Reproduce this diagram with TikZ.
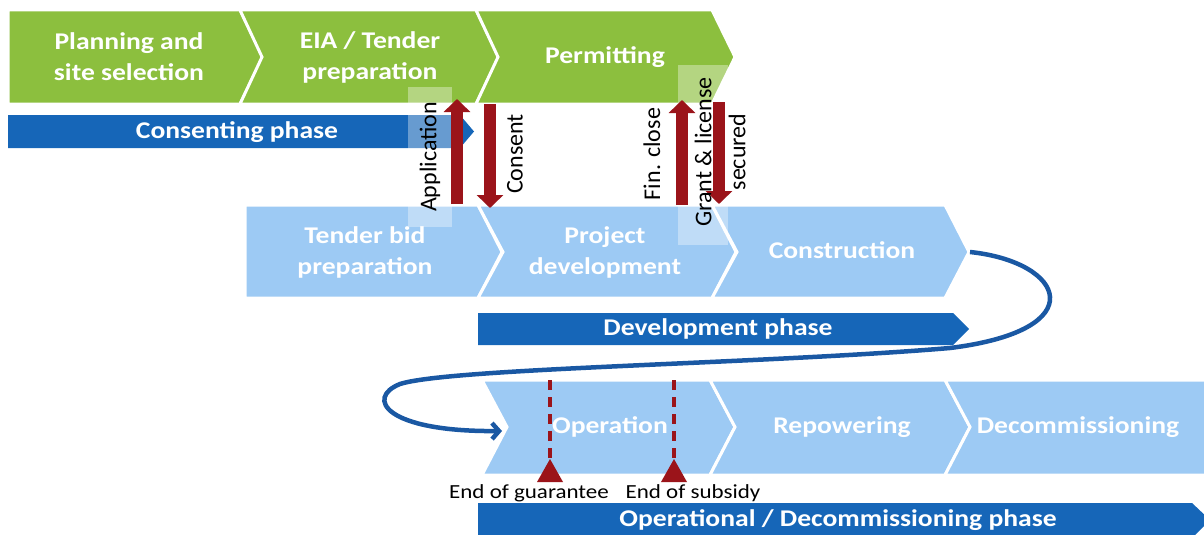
\documentclass[tikz,border=0pt]{standalone}
\usepackage{fontspec}
\setmainfont{Carlito}
\newfontfamily\chevfont{Carlito}[FakeStretch=1.15]
\usetikzlibrary{arrows.meta}
\definecolor{leafgreen}{RGB}{140,191,62}
\definecolor{skyblue}{RGB}{157,202,244}
\definecolor{phaseblue}{RGB}{22,102,184}
\definecolor{loopblue}{RGB}{26,88,163}
\definecolor{signred}{RGB}{155,20,26}
\tikzset{
  stage/.style={text=white, font=\chevfont\bfseries\fontsize{24}{31}\selectfont, align=center},
  sidetext/.style={rotate=90, font=\fontsize{24}{30}\selectfont, align=center},
  endtext/.style={font=\chevfont\fontsize{20}{24}\selectfont},
  redarrow/.style={signred, line width=12pt, -{Triangle[length=13pt,width=26pt]}},
}
\begin{document}
\begin{tikzpicture}[x=1pt, y=-1pt]
\useasboundingbox (0,0) rectangle (1204,535);
\foreach \l/\r/\n in {8/240/0, 240/476/22, 476/712/22}
{
    \fill[leafgreen, draw=white, line width=3pt](\l,10)--(\r,10)--(\r+23,57)--(\r,104)--(\l,104)--(\l+\n,57)--cycle;
}
\fill[phaseblue](8,115)--(460,115)--(474,131.5)--(460,148)--(8,148)--cycle;
\foreach \l/\r/\n in {245/478/0, 478/712/25, 712/945/25}
{
    \fill[skyblue, draw=white, line width=3pt](\l,205)--(\r,205)--(\r+24,252)--(\r,298)--(\l,298)--(\l+\n,252)--cycle;
}
\fill[phaseblue](478,313)--(953,313)--(969,329)--(953,345)--(478,345)--cycle;
\foreach \l/\r/\n in {482/710/25, 710/945/25, 945/1205/25}
{
    \fill[skyblue, draw=white, line width=3pt](\l,380)--(\r,380)--(\r+25,427)--(\r,475)--(\l,475)--(\l+\n,427)--cycle;
}
\fill[phaseblue](478,503)--(1192,503)--(1210,520)--(1192,538)--(478,538)--cycle;
\fill[white, opacity=.35](408,87)rectangle(452,227);
\fill[white, opacity=.35](678,65)rectangle(728,245);
\node[stage](plan) at (129,57){Planning and\\site selection};
\node[stage](eia) at (370,57){EIA / Tender\\preparation};
\node[stage](permit) at (605,57){Permitting};
\node[stage](consph) at (237,132){Consenting phase};
\node[stage](tender) at (365,252){Tender bid\\preparation};
\node[stage](projdev) at (605,252){Project\\development};
\node[stage](constr) at (842,250){Construction};
\node[stage](devph) at (718,329){Development phase};
\node[stage](oper) at (610,427){Operation};
\node[stage](repow) at (842,427){Repowering};
\node[stage](decom) at (1078,427){Decommissioning};
\node[stage](opph) at (838,520){Operational / Decommissioning phase};
\coordinate(app-s) at (457,204);
\coordinate(app-e) at (457,99);
\coordinate(cons-s) at (490,104);
\coordinate(cons-e) at (490,208);
\coordinate(fin-s) at (682,205);
\coordinate(fin-e) at (682,100);
\coordinate(grant-s) at (719,102);
\coordinate(grant-e) at (719,204);
\draw[redarrow](app-s)--(app-e);
\draw[redarrow](cons-s)--(cons-e);
\draw[redarrow](fin-s)--(fin-e);
\draw[redarrow](grant-s)--(grant-e);
\node[sidetext](app) at (430,157){Application};
\node[sidetext](cons) at (515,154){Consent};
\node[sidetext](fin) at (652,154){Fin. close};
\node[sidetext](grant) at (720,152){Grant \& license\\[4pt]secured};
\foreach \x in {550,674}
{
    \draw[signred, line width=4pt, dash pattern=on 10pt off 7pt](\x,380)--(\x,462);
    \fill[signred](\x,459)--(\x+13,482)--(\x-13,482)--cycle;
}
\node[endtext](guar) at (529,493){End of guarantee};
\node[endtext](subs) at (693,493){End of subsidy};
\coordinate(ctip) at (970,252);
\coordinate(otip) at (502,431);
\draw[loopblue, line width=4.5pt, -{Straight Barb[length=7pt,width=16pt]}](ctip)..controls(1065,262)and(1095,330)..(950,348)..controls(760,364)and(450,368)..(400,384)..controls(365,398)and(385,432)..(otip);
\end{tikzpicture}
\end{document}
